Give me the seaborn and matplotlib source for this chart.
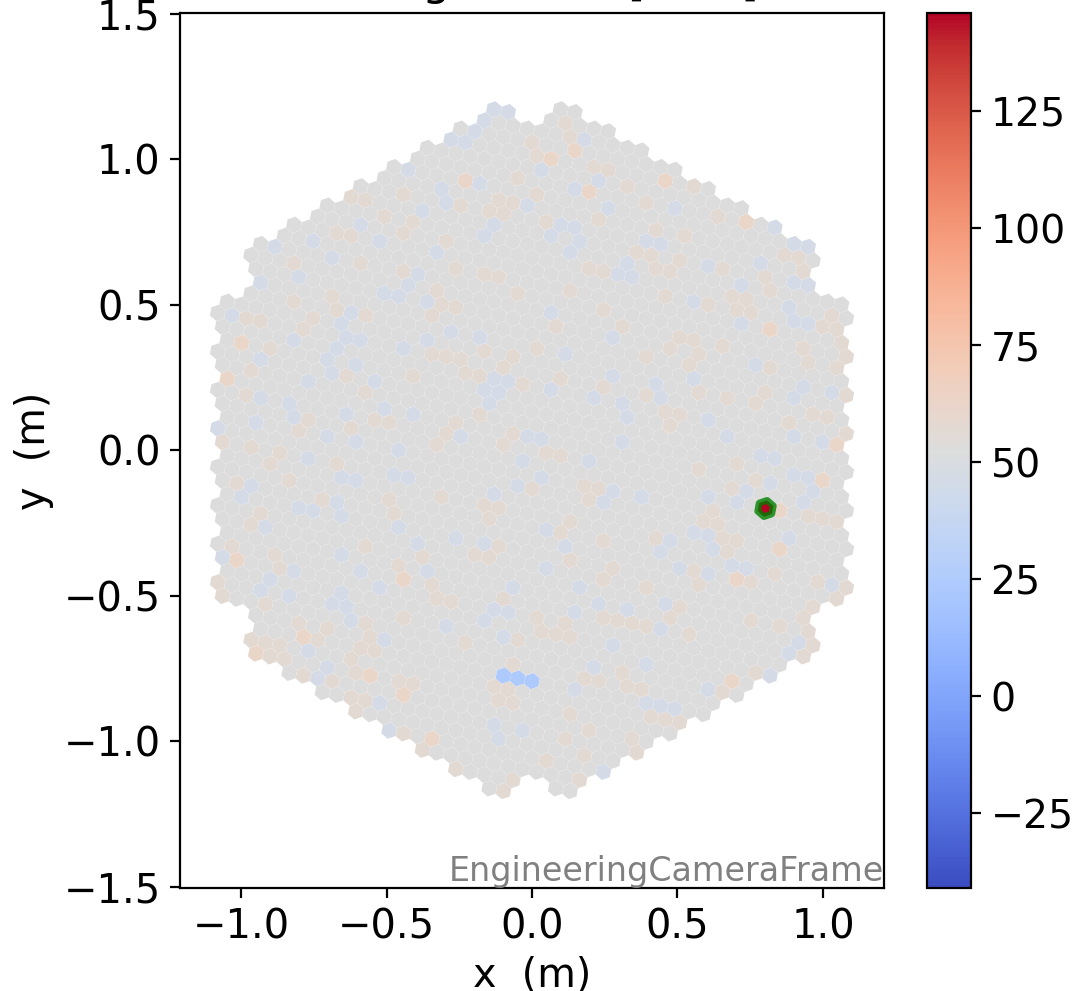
import numpy as np
import pandas as pd
import matplotlib
matplotlib.use("Agg")
import matplotlib.pyplot as plt
import seaborn as sns
from matplotlib.colors import Normalize
from matplotlib.cm import ScalarMappable

# camera layout: 7-pixel modules on a hexagonal grid, six corner modules missing
pixel_pitch = 0.05
module_rings = 9
lattice_angle = -10.9

# readings: (x, y) in metres of the pixels that stand out
base_value = 52.6
warm_value = 57.5
strong_value = 62
cool_value = 46.5
low_value = 24
hot_value = 146
value_min, value_max = -41, 146

hot_pixel = (0.80, -0.20)
low_pixels = [(-0.10, -0.775), (-0.05, -0.785), (0.00, -0.794)]
strong_pixels = [
    (-1.00, 0.37), (-1.05, 0.25), (0.815, 0.415), (1.047, 0.02), (-1.015, -0.378),
    (-0.445, -0.444), (-0.789, -0.641), (-0.951, -0.699), (-0.559, -0.777),
    (-0.445, -0.842), (-0.345, -0.991), (0.995, -0.103), (0.852, -0.208),
    (0.85, -0.34), (0.703, -0.444), (0.686, -0.793), (0.193, 0.889), (-0.233, 0.926),
    (0.457, 0.926), (0.735, 0.784), (0.065, 1.003), (0.145, 1.031),
]
warm_pixels = [
    (-0.626, 0.869), (-0.575, 0.862), (-0.674, 0.747), (-0.626, 0.738), (-0.592, 0.644),
    (-0.821, 0.642), (-0.412, 0.785), (-0.445, 0.617), (-0.821, 0.512), (-0.689, 0.527),
    (-0.674, 0.481), (-0.574, 0.464), (-0.754, 0.453), (-0.983, 0.453), (-0.935, 0.445),
    (-0.903, 0.35), (-0.789, 0.415), (-0.967, 0.275), (-0.983, 0.189), (-0.771, 0.106),
    (-0.803, 0.067), (-0.624, 0.078), (-0.494, 0.094), (-0.542, 0.103), (-1.066, 0.032),
    (-0.967, 0.017), (-0.64, 0.257), (-0.574, 0.197), (-0.443, 0.88), (-0.509, 0.804),
    (-0.445, 0.747), (-0.411, 0.258),
    (0.113, 1.125), (0.128, 1.077), (-0.001, 1.059), (0.013, 1.011), (-0.052, 0.935),
    (0.21, 0.974), (0.26, 0.965), (0.325, 0.907), (0.015, 0.88), (-0.116, 0.859),
    (-0.068, 0.852), (-0.15, 0.823), (-0.1, 0.814), (-0.249, 0.841), (0.047, 0.785),
    (0.225, 0.795), (-0.297, 0.717), (-0.265, 0.625), (-0.166, 0.605), (-0.116, 0.596),
    (-0.052, 0.539), (0.129, 0.548), (0.193, 0.623), (0.244, 0.614), (0.354, 0.681),
    (-0.33, 0.548), (-0.313, 0.502), (-0.265, 0.493), (-0.345, 0.464), (0.244, 0.481),
    (0.079, 0.424), (0.308, 0.424), (0.015, 0.35), (-0.166, 0.342), (-0.345, 0.33),
    (-0.297, 0.321), (-0.249, 0.312), (-0.068, 0.321), (-0.182, 0.257), (-0.23, 0.264),
    (-0.036, 0.227), (0.096, 0.247), (0.244, 0.22), (-0.265, 0.096), (-0.182, 0.124),
    (-0.297, 0.058), (-0.33, 0.023), (-0.068, 0.058), (-0.1, 0.023), (-0.1, 0.287),
    (0.554, 0.907), (0.392, 0.85), (0.637, 0.802), (0.424, 0.756), (0.522, 0.738),
    (0.866, 0.671), (0.914, 0.662), (0.93, 0.614), (0.424, 0.623), (0.474, 0.614),
    (0.506, 0.653), (0.408, 0.671), (0.653, 0.623), (0.799, 0.596), (0.815, 0.548),
    (0.685, 0.529), (0.735, 0.52), (0.701, 0.481), (0.751, 0.472), (0.457, 0.529),
    (0.604, 0.502), (1.03, 0.464), (0.995, 0.424), (1.047, 0.415), (1.063, 0.369),
    (1.079, 0.321), (1.047, 0.284), (0.653, 0.358), (0.474, 0.35), (0.554, 0.378),
    (0.506, 0.387), (0.392, 0.321), (0.571, 0.33), (0.538, 0.292), (0.93, 0.35),
    (0.947, 0.303), (0.815, 0.284), (0.801, 0.2), (1.079, 0.189), (0.571, 0.2),
    (0.392, 0.189), (0.457, 0.133), (0.506, 0.124), (0.474, 0.086), (0.669, 0.181),
    (0.766, 0.163), (0.962, 0.124), (1.012, 0.115), (0.882, 0.096), (1.079, 0.058),
    (-0.903, -0.046), (-0.674, -0.046), (-1.015, -0.112), (-0.837, -0.103), (-0.723, -0.17),
    (-0.935, -0.215), (-0.967, -0.254), (-0.494, -0.17), (-0.477, -0.215), (-1.033, -0.33),
    (-0.87, -0.405), (-0.887, -0.357), (-1.082, -0.454), (-1.066, -0.502), (-0.46, -0.396),
    (-0.385, -0.369), (-0.574, -0.33), (-0.918, -0.529), (-0.803, -0.596), (-0.738, -0.653),
    (-0.706, -0.615), (-0.574, -0.596), (-0.557, -0.641), (-0.542, -0.69), (-0.592, -0.682),
    (-0.967, -0.653), (-0.918, -0.662), (-0.87, -0.67), (-0.903, -0.71), (-0.853, -0.719),
    (-0.789, -0.777), (-0.609, -0.765), (-0.624, -0.719), (-0.689, -0.794), (-0.46, -0.794),
    (-0.411, -0.802), (-0.608, -0.899), (-0.445, -0.974), (-0.443, -0.578), (-0.869, -0.014),
    (-0.385, -1.031), (-0.574, -0.859), (-0.624, -0.85),
    (-0.313, -0.158), (-0.166, -0.189), (-0.116, -0.197), (-0.15, -0.235), (0.128, -0.243),
    (0.096, -0.281), (-0.116, -0.33), (-0.15, -0.369), (-0.198, -0.357), (-0.23, -0.659),
    (-0.281, -0.521), (-0.33, -0.51), (-0.345, -0.464), (-0.1, -0.51), (0.015, -0.576),
    (0.031, -0.624), (0.113, -0.596), (0.129, -0.641), (0.079, -0.633), (-0.052, -0.653),
    (-0.068, -0.733), (-0.133, -0.813), (-0.084, -0.821), (-0.116, -0.859), (-0.068, -0.871),
    (0.177, -0.785), (0.228, -0.793), (0.244, -0.573), (0.293, -0.584), (0.342, -0.596),
    (0.244, -0.312), (0.276, -0.404), (0.244, -0.444), (0.129, -0.378), (0.177, -0.12),
    (0.225, -0.132), (0.193, -0.172), (0.047, -0.014), (0.096, -0.021), (-0.001, -0.132),
    (-0.265, -1.097), (0.161, -1.134), (0.113, -0.991), (0.177, -1.048), (0.354, -1.04),
    (0.308, -0.762), (0.325, -0.811), (0.128, -0.907), (0.193, -0.965), (0.342, -0.991),
    (0.047, -1.065), (-0.1, -1.171), (-0.068, -1.134),
    (0.571, -0.066), (0.703, -0.048), (0.766, -0.103), (0.686, -0.132), (0.621, -0.206),
    (0.589, -0.245), (0.637, -0.254), (0.423, -0.301), (0.653, -0.302), (0.701, -0.312),
    (0.669, -0.349), (0.947, -0.227), (0.996, -0.235), (1.047, -0.245), (0.554, -0.415),
    (0.751, -0.454), (0.833, -0.426), (0.571, -0.463), (0.392, -0.472), (1.079, -0.472),
    (1.045, -0.511), (0.98, -0.452), (0.964, -0.538), (0.932, -0.576), (0.751, -0.586),
    (0.85, -0.605), (0.947, -0.624), (0.964, -0.672), (0.932, -0.71), (0.766, -0.765),
    (0.653, -0.832), (0.506, -0.538), (0.474, -0.576), (0.538, -0.632), (0.392, -0.605),
    (0.377, -0.822), (0.506, -0.934), (0.457, -0.926), (0.408, -0.916),
]
cool_pixels = [
    (-0.887, 0.701), (-0.754, 0.717), (-0.689, 0.665), (-0.525, 0.717), (-0.935, 0.575),
    (-0.807, 0.598), (-0.427, 0.965), (-0.38, 0.823), (-0.592, 0.775), (-0.394, 0.603),
    (-0.427, 0.567), (-0.509, 0.539), (-0.46, 0.527), (-0.624, 0.475), (-0.657, 0.436),
    (-0.821, 0.378), (-0.64, 0.387), (-0.592, 0.378), (-0.672, 0.35), (-0.445, 0.35),
    (-0.608, 0.292), (-0.706, 0.312), (-0.689, 0.264), (-0.542, 0.235), (-0.771, 0.235),
    (-0.935, 0.18), (-0.837, 0.161), (-0.821, 0.115), (-0.951, 0.096), (-1.082, 0.075),
    (-0.509, 0.143), (-0.64, 0.124), (-0.706, 0.048), (-0.608, 0.032), (-1.033, 0.464),
    (-0.935, 0.315), (-0.411, 0.124),
    (-0.133, 1.173), (-0.084, 1.163), (-0.166, 1.134), (-0.198, 1.095), (-0.281, 1.068),
    (-0.231, 1.059), (0.177, 1.068), (0.031, 0.965), (-0.182, 0.917), (-0.313, 0.899),
    (0.145, 0.899), (0.228, 0.928), (0.26, 0.832), (-0.297, 0.85), (-0.019, 0.841),
    (-0.133, 0.775), (0.096, 0.775), (0.145, 0.768), (0.063, 0.738), (-0.166, 0.738),
    (0.161, 0.72), (-0.33, 0.681), (0.129, 0.681), (0.325, 0.642), (0.292, 0.605),
    (0.342, 0.596), (-0.357, 0.51), (0.063, 0.474), (-0.281, 0.407), (-0.182, 0.387),
    (-0.357, 0.378), (0.276, 0.387), (0.113, 0.33), (0.276, 0.255), (-0.133, 0.247),
    (-0.084, 0.237), (-0.166, 0.209), (-0.116, 0.2), (0.063, 0.209), (0.21, 0.181),
    (-0.15, 0.163), (0.308, 0.163), (0.325, 0.115), (-0.019, 0.048), (0.031, 0.039),
    (0.308, 0.03), (-0.249, 0.048),
    (0.49, 0.832), (0.392, 0.717), (0.44, 0.71), (0.834, 0.765), (0.898, 0.71),
    (0.948, 0.701), (0.605, 0.633), (0.783, 0.644), (0.719, 0.567), (0.898, 0.578),
    (0.947, 0.567), (0.554, 0.51), (0.882, 0.493), (0.947, 0.436), (0.898, 0.447),
    (0.718, 0.436), (0.766, 0.292), (0.554, 0.247), (0.424, 0.229), (0.44, 0.181),
    (0.93, 0.218), (1.029, 0.197), (0.898, 0.181), (0.604, 0.103), (0.898, 0.048),
    (0.669, 0.048), (1.0, 0.03),
    (-0.771, -0.029), (-0.967, -0.12), (-0.657, -0.094), (-0.608, -0.103), (-0.477, -0.086),
    (-0.427, -0.094), (-1.002, -0.16), (-0.803, -0.197), (-0.754, -0.206), (-0.674, -0.178),
    (-0.657, -0.226), (-0.918, -0.263), (-0.46, -0.263), (-0.394, -0.321), (-1.066, -0.367),
    (-0.657, -0.357), (-0.592, -0.415), (-0.821, -0.415), (-0.903, -0.444), (-0.525, -0.472),
    (-0.657, -0.49), (-0.837, -0.501), (-0.935, -0.481), (-0.689, -0.529), (-0.64, -0.538),
    (-0.624, -0.584), (-0.509, -0.651), (-0.771, -0.69), (-0.706, -0.747), (-0.738, -0.785),
    (-0.525, -0.871), (-0.494, -0.964), (-0.46, -0.011),
    (0.047, -0.273), (-0.052, -0.124), (0.031, -0.094), (-0.036, -0.037), (0.193, -0.037),
    (0.276, -0.14), (0.244, -0.179), (-0.133, -0.149), (0.112, -0.33), (-0.166, -0.321),
    (-0.265, -0.304), (0.047, -0.404), (0.161, -0.472), (-0.068, -0.472), (0.228, -0.527),
    (0.325, -0.548), (0.145, -0.557), (-0.084, -0.557), (-0.133, -0.548), (-0.166, -0.586),
    (-0.1, -0.641), (0.276, -0.67), (0.21, -0.747), (0.145, -0.82), (-0.036, -0.964),
    (-0.116, -0.992), (-0.133, -0.945), (0.244, -1.105), (-0.357, -0.418), (-0.297, -0.607),
    (0.377, -0.16), (0.898, -0.082), (0.947, -0.092), (0.964, -0.14), (0.93, -0.179),
    (0.833, -0.029), (0.783, -0.018), (0.735, -0.14), (0.815, -0.112), (0.703, -0.179),
    (0.605, -0.16), (0.554, -0.283), (0.605, -0.292), (0.621, -0.339), (0.882, -0.301),
    (0.474, -0.312), (0.44, -0.349), (0.506, -0.405), (0.604, -0.424), (0.686, -0.396),
    (0.735, -0.405), (1.029, -0.462), (0.457, -0.529), (0.44, -0.613), (0.914, -0.661),
    (0.882, -0.699), (0.815, -0.774), (0.605, -0.822), (0.392, -0.735), (0.392, -0.871),
    (0.44, -0.877), (0.489, -0.888),
]

colorbar_ticks = [-25, 0, 25, 50, 75, 100, 125]
x_ticks = [-1.0, -0.5, 0.0, 0.5, 1.0]
y_ticks = [-1.5, -1.0, -0.5, 0.0, 0.5, 1.0, 1.5]


def direction(angle):
    return np.array([np.cos(np.radians(angle)), np.sin(np.radians(angle))])


def build_camera():
    module_step = pixel_pitch * np.sqrt(7)
    flower = [np.zeros(2)] + [pixel_pitch * direction(lattice_angle + 60 * k) for k in range(6)]
    corners = {(9, 0), (0, 9), (9, -9), (-9, 9), (-9, 0), (0, -9)}
    pos = []
    for i in range(-module_rings, module_rings + 1):
        for j in range(-module_rings, module_rings + 1):
            dist = abs(i) + abs(j) if i * j >= 0 else max(abs(i), abs(j))
            if dist > module_rings or (i, j) in corners:
                continue
            centre = module_step * (i * direction(90) + j * direction(30))
            pos += [centre + f for f in flower]
    return np.array(pos)


def set_values(image, pos, pixels, value):
    for px, py in pixels:
        image[np.argmin((pos[:, 0] - px) ** 2 + (pos[:, 1] - py) ** 2)] = value


pos = build_camera()
image = np.full(len(pos), float(base_value))
set_values(image, pos, warm_pixels, warm_value)
set_values(image, pos, cool_pixels, cool_value)
set_values(image, pos, strong_pixels, strong_value)
set_values(image, pos, low_pixels, low_value)

hot_idx = np.argmin((pos[:, 0] - hot_pixel[0]) ** 2 + (pos[:, 1] - hot_pixel[1]) ** 2)
df = pd.DataFrame({"x": pos[:, 0], "y": pos[:, 1], "charge": image})

W, H = 1074, 991
fig = plt.figure(figsize=(W / 200, H / 200), dpi=200)
ax = fig.add_axes([180 / W, 1 - 888 / H, (884 - 180) / W, (888 - 13) / H])
cax = fig.add_axes([927 / W, 1 - 888 / H, (971 - 927) / W, (888 - 13) / H])

norm = Normalize(value_min, value_max)
hex_marker = (6, 0, lattice_angle)
sns.scatterplot(data=df, x="x", y="y", hue="charge", palette="coolwarm", hue_norm=norm,
                marker=hex_marker, s=36, linewidth=0, legend=False, ax=ax)
# flagged pixel, green edge on top of the fill
sns.scatterplot(x=[pos[hot_idx, 0]], y=[pos[hot_idx, 1]], hue=[hot_value], palette="coolwarm",
                hue_norm=norm, marker=hex_marker, s=36, linewidth=2.4,
                edgecolor=(0, 0.5, 0, 0.8), alpha=None, legend=False, zorder=3, ax=ax)

ax.set_xlim(-1.21, 1.21)
ax.set_ylim(-1.505, 1.503)
ax.set_xticks(x_ticks)
ax.set_yticks(y_ticks)
ax.tick_params(labelsize=14.4)
ax.set_xlabel("x  (m)", fontsize=14.3, labelpad=3)
ax.set_ylabel("y  (m)", fontsize=14.3, labelpad=3.5)
ax.set_title("Average Value [ADC]", fontsize=16, x=0.492, pad=6.5)
ax.text(1.0, 0.0, "EngineeringCameraFrame", transform=ax.transAxes, ha="right", va="bottom",
        fontsize=12.0, color="gray")

cb = fig.colorbar(ScalarMappable(norm=norm, cmap="coolwarm"), cax=cax)
cb.set_ticks(colorbar_ticks)
cb.ax.tick_params(labelsize=14.2)

fig.savefig("out.png", dpi=200)
